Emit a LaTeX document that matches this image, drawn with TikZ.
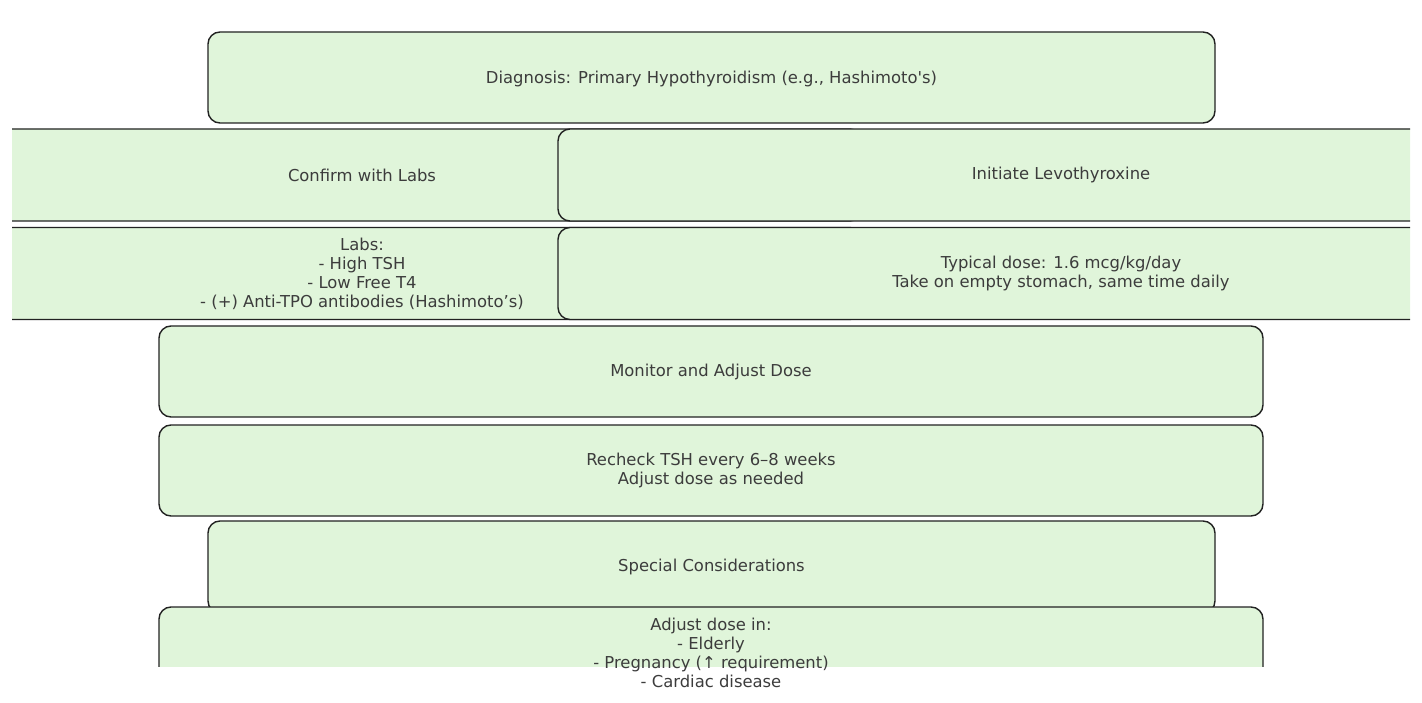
\documentclass[tikz,border=0pt]{standalone}
\usepackage{fontspec}
\setmainfont{DejaVu Sans}[Ligatures=TeXOff]
\definecolor{boxfill}{RGB}{224,245,218}
\definecolor{boxline}{RGB}{34,34,34}
\definecolor{txtcol}{RGB}{60,60,60}
\begin{document}
\begin{tikzpicture}[x=1pt,y=-1pt,
  box/.style={draw=boxline,fill=boxfill,line width=1.4pt,rounded corners=12pt,inner sep=0pt},
  txt/.style={text=txtcol,font=\fontsize{16.4}{19}\selectfont,align=center,inner sep=0pt}]
\useasboundingbox (0,0) rectangle (1422,703);
\begin{scope}
\clip (12,0) rectangle (1410,666);
\node[box,minimum width=1007pt,minimum height=91pt] (b1) at (711.5,77.5) {};
\node[box,minimum width=1000pt,minimum height=92pt] (b2l) at (362,175) {};
\node[box,minimum width=1006pt,minimum height=92pt] (b2r) at (1061,175) {};
\node[box,minimum width=1000pt,minimum height=92pt] (b3l) at (362,273.5) {};
\node[box,minimum width=1006pt,minimum height=92pt] (b3r) at (1061,273.5) {};
\node[box,minimum width=1104pt,minimum height=91pt] (b4) at (711,371.5) {};
\node[box,minimum width=1104pt,minimum height=91pt] (b5) at (711,470.5) {};
\node[box,minimum width=1007pt,minimum height=92pt] (b6) at (711.5,567) {};
\node[box,minimum width=1104pt,minimum height=92pt] (b7) at (711,653) {};
\end{scope}
\node[txt] (t1) at ([yshift=-1pt]b1.center) {Diagnosis: Primary Hypothyroidism (e.g., Hashimoto's)};
\node[txt] (t2l) at (b2l.center) {Confirm with Labs};
\node[txt] (t2r) at (b2r.center) {Initiate Levothyroxine};
\node[txt] (t3l) at (b3l.center) {Labs:\\- High TSH\\- Low Free T4\\- (+) Anti-TPO antibodies (Hashimoto’s)};
\node[txt] (t3r) at (b3r.center) {Typical dose: 1.6 mcg/kg/day\\Take on empty stomach, same time daily};
\node[txt] (t4) at (b4.center) {Monitor and Adjust Dose};
\node[txt] (t5) at (b5.center) {Recheck TSH every 6–8 weeks\\Adjust dose as needed};
\node[txt] (t6) at (b6.center) {Special Considerations};
\node[txt] (t7) at (b7.center) {Adjust dose in:\\- Elderly\\- Pregnancy (↑ requirement)\\- Cardiac disease};
\end{tikzpicture}
\end{document}
